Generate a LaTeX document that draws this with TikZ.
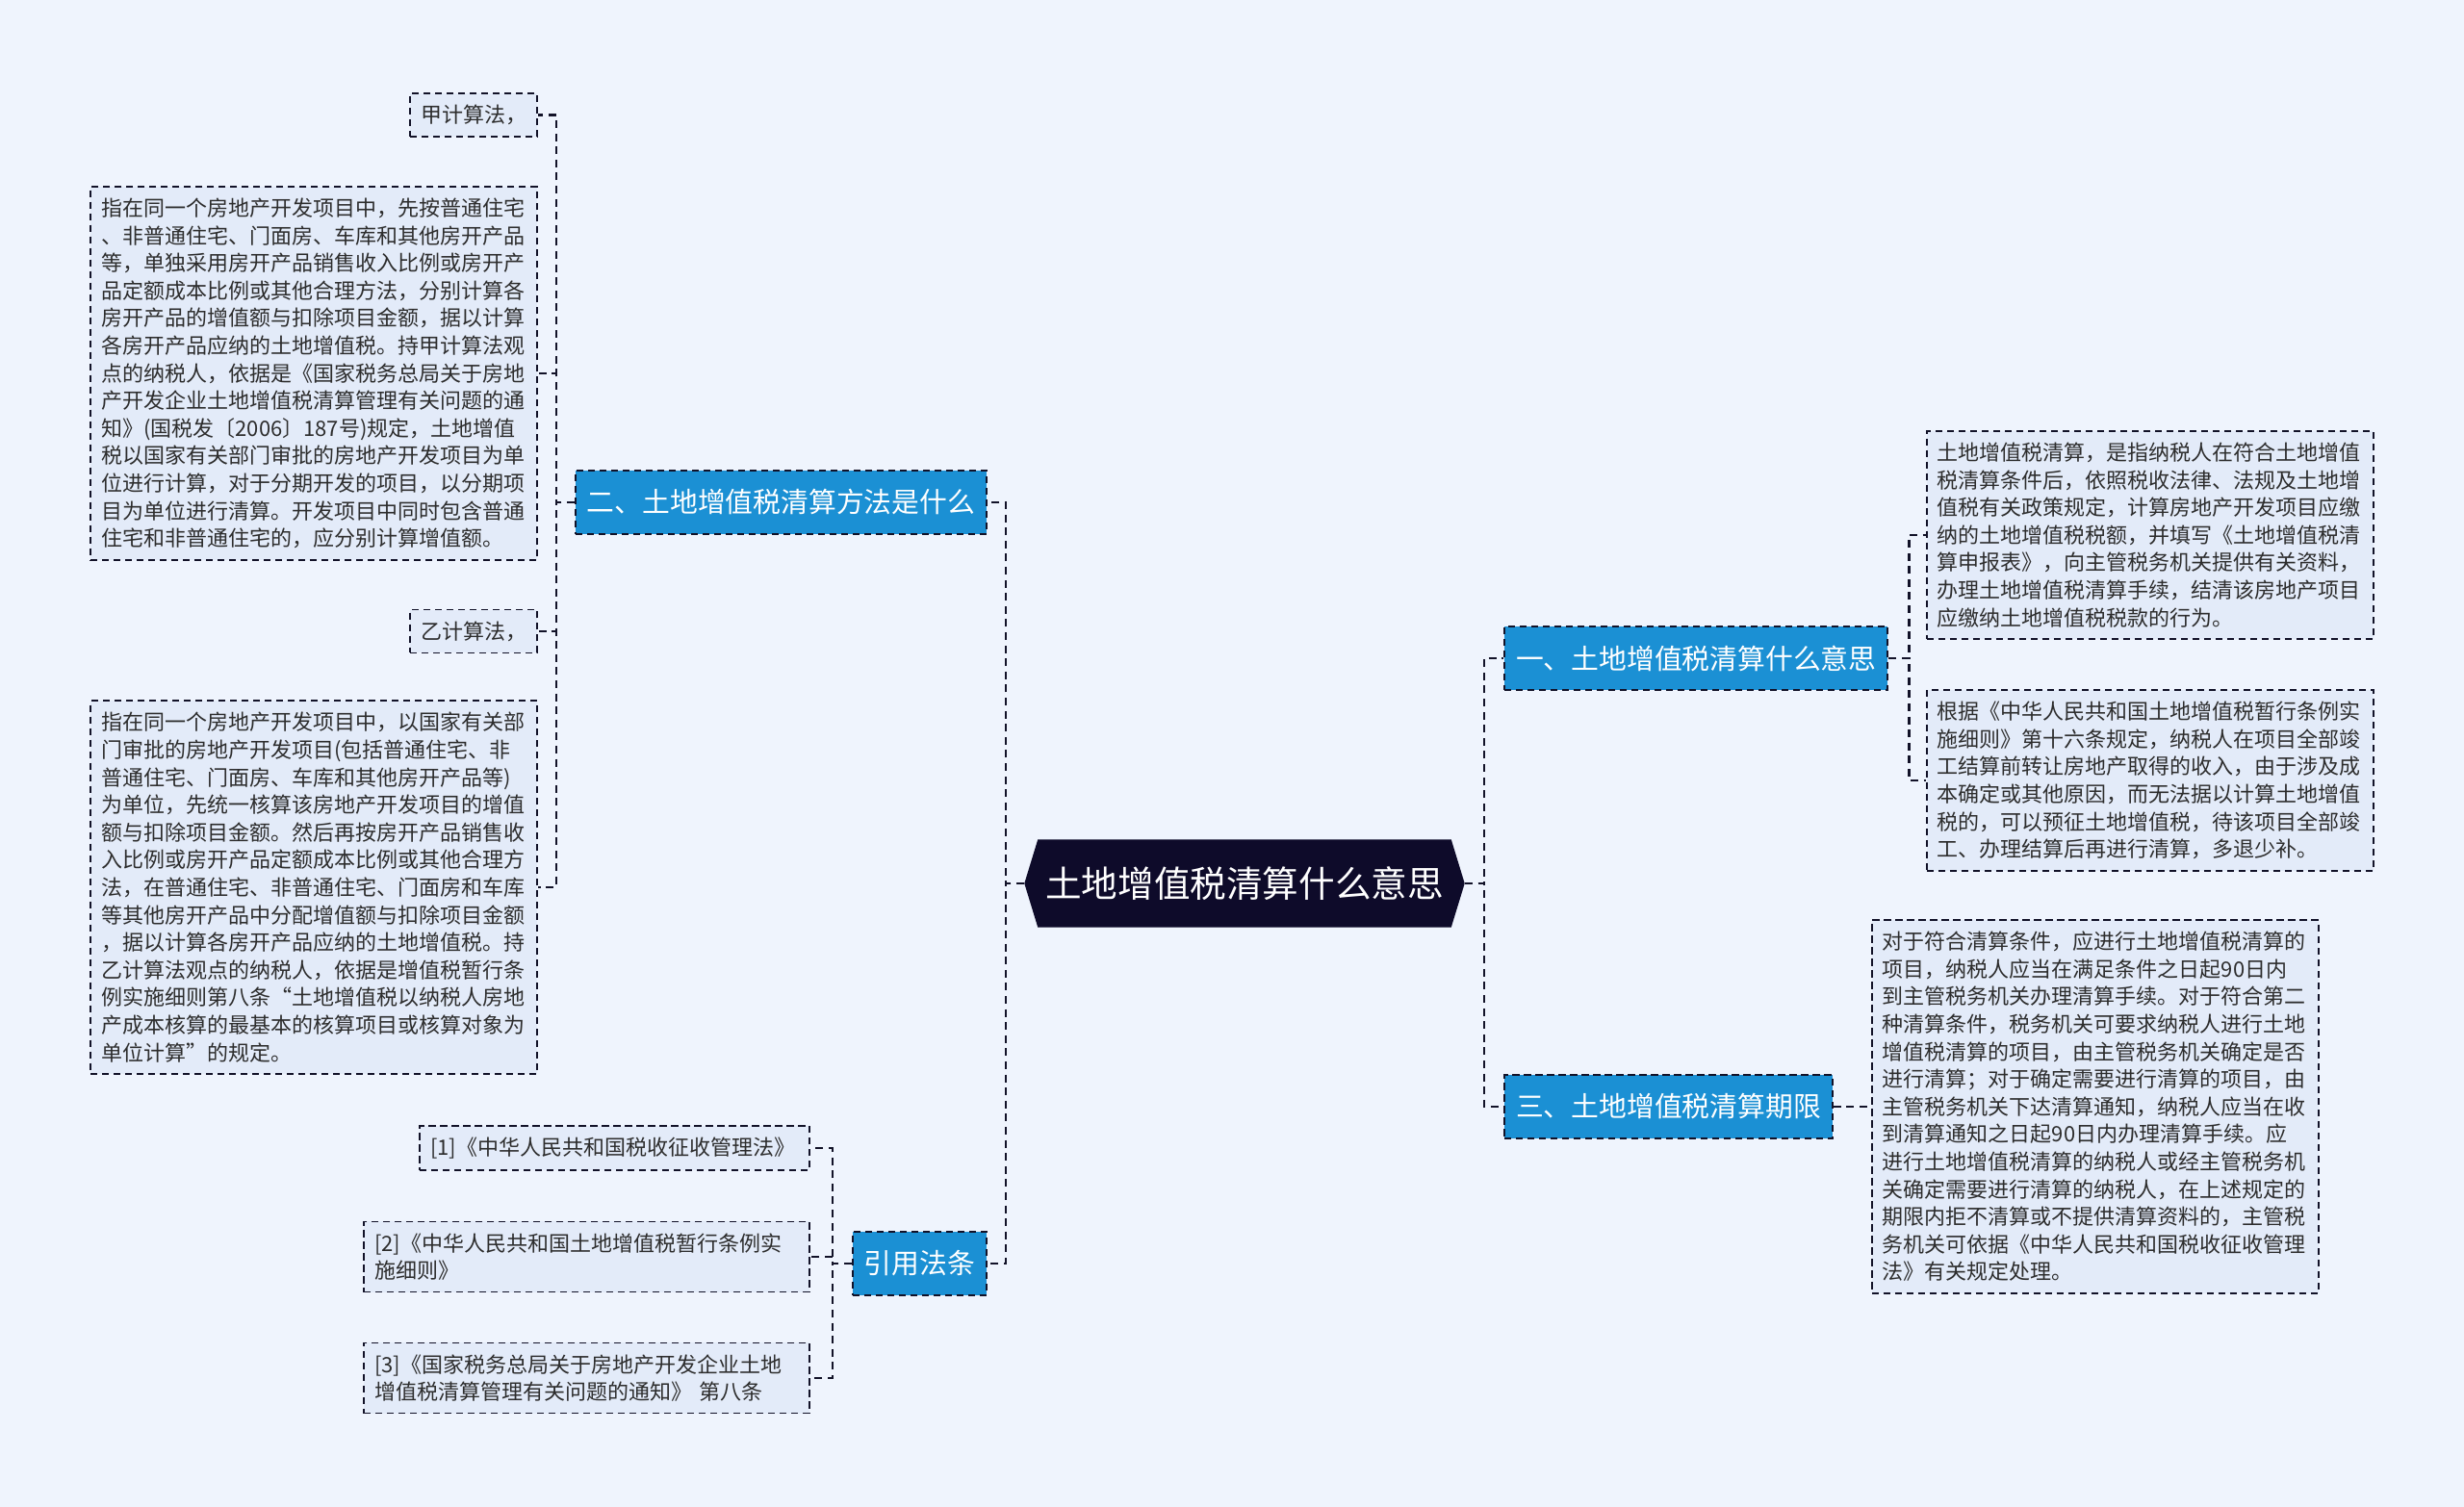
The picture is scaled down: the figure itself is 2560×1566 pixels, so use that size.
\documentclass[tikz,border=0pt]{standalone}
\usepackage{fontspec}
\setmainfont{Noto Sans CJK SC}
\usetikzlibrary{shapes.symbols}
\definecolor{tdbg}{RGB}{239,244,253}
\definecolor{tdleaf}{RGB}{227,235,249}
\definecolor{tdblue}{RGB}{27,144,212}
\definecolor{tdroot}{RGB}{14,11,42}
\definecolor{tdline}{RGB}{18,18,40}
\definecolor{tdtext}{RGB}{45,45,45}
\tikzset{
  link/.style={tdline,line width=1.1pt,dash pattern=on 4pt off 2.8pt},
  rootnode/.style={shape=signal,signal to=east and west,signal pointer angle=146,
    fill=tdroot,text=white,font=\fontsize{18.8}{22}\selectfont,
    minimum height=45.5pt,inner xsep=4pt,inner ysep=0pt},
  topic/.style={fill=tdblue,draw=tdline,line width=1pt,dash pattern=on 3.6pt off 2.4pt,
    text=white,font=\fontsize{14.4}{17}\selectfont,minimum height=33pt,inner xsep=6pt,inner ysep=0pt},
  leaf/.style={fill=tdleaf,draw=tdline,line width=0.8pt,dash pattern=on 3.6pt off 2.4pt,
    text=tdtext,font=\fontsize{11}{14.3}\selectfont,align=left,inner xsep=5.5pt,inner ysep=6pt}
}
\begin{document}
\begin{tikzpicture}[x=0.5pt,y=-0.5pt]
\fill[tdbg] (0,0) rectangle (2560,1566);
\useasboundingbox (0,0) rectangle (2560,1566);

\node[rootnode] (root) at (1293,918) {土地增值税清算什么意思};

\node[topic,anchor=west] (t1) at (1562,684) {一、土地增值税清算什么意思};
\node[topic,anchor=west] (t3) at (1562,1150) {三、土地增值税清算期限};
\node[topic,anchor=east] (t2) at (1026,522) {二、土地增值税清算方法是什么};
\node[topic,anchor=east] (t4) at (1026,1313) {引用法条};

% method leaves
\node[leaf,anchor=east] (l1) at (559,119.5) {甲计算法，};
\node[leaf,anchor=east,text width=221pt] (l2) at (559,388) {指在同一个房地产开发项目中，先按普通住宅\\
、非普通住宅、门面房、车库和其他房开产品\\
等，单独采用房开产品销售收入比例或房开产\\
品定额成本比例或其他合理方法，分别计算各\\
房开产品的增值额与扣除项目金额，据以计算\\
各房开产品应纳的土地增值税。持甲计算法观\\
点的纳税人，依据是《国家税务总局关于房地\\
产开发企业土地增值税清算管理有关问题的通\\
知》(国税发〔2006〕187号)规定，土地增值\\
税以国家有关部门审批的房地产开发项目为单\\
位进行计算，对于分期开发的项目，以分期项\\
目为单位进行清算。开发项目中同时包含普通\\
住宅和非普通住宅的，应分别计算增值额。};
\node[leaf,anchor=east] (l3) at (559,656) {乙计算法，};
\node[leaf,anchor=east,text width=221pt] (l4) at (559,922) {指在同一个房地产开发项目中，以国家有关部\\
门审批的房地产开发项目(包括普通住宅、非\\
普通住宅、门面房、车库和其他房开产品等)\\
为单位，先统一核算该房地产开发项目的增值\\
额与扣除项目金额。然后再按房开产品销售收\\
入比例或房开产品定额成本比例或其他合理方\\
法，在普通住宅、非普通住宅、门面房和车库\\
等其他房开产品中分配增值额与扣除项目金额\\
，据以计算各房开产品应纳的土地增值税。持\\
乙计算法观点的纳税人，依据是增值税暂行条\\
例实施细则第八条“土地增值税以纳税人房地\\
产成本核算的最基本的核算项目或核算对象为\\
单位计算”的规定。};

% cited laws
\node[leaf,anchor=east,text width=191.5pt] (c1) at (842,1193) {[1]《中华人民共和国税收征收管理法》};
\node[leaf,anchor=east,text width=220.5pt] (c2) at (842,1306) {[2]《中华人民共和国土地增值税暂行条例实\\
施细则》};
\node[leaf,anchor=east,text width=220.5pt] (c3) at (842,1432) {[3]《国家税务总局关于房地产开发企业土地\\
增值税清算管理有关问题的通知》 第八条};

% meaning leaves
\node[leaf,anchor=west,text width=221pt] (r1) at (2001,556) {土地增值税清算，是指纳税人在符合土地增值\\
税清算条件后，依照税收法律、法规及土地增\\
值税有关政策规定，计算房地产开发项目应缴\\
纳的土地增值税税额，并填写《土地增值税清\\
算申报表》，向主管税务机关提供有关资料，\\
办理土地增值税清算手续，结清该房地产项目\\
应缴纳土地增值税税款的行为。};
\node[leaf,anchor=west,text width=221pt] (r2) at (2001,811) {根据《中华人民共和国土地增值税暂行条例实\\
施细则》第十六条规定，纳税人在项目全部竣\\
工结算前转让房地产取得的收入，由于涉及成\\
本确定或其他原因，而无法据以计算土地增值\\
税的，可以预征土地增值税，待该项目全部竣\\
工、办理结算后再进行清算，多退少补。};

% time limit leaf
\node[leaf,anchor=west,text width=221pt] (r3) at (1944,1150) {对于符合清算条件，应进行土地增值税清算的\\
项目，纳税人应当在满足条件之日起90日内\\
到主管税务机关办理清算手续。对于符合第二\\
种清算条件，税务机关可要求纳税人进行土地\\
增值税清算的项目，由主管税务机关确定是否\\
进行清算；对于确定需要进行清算的项目，由\\
主管税务机关下达清算通知，纳税人应当在收\\
到清算通知之日起90日内办理清算手续。应\\
进行土地增值税清算的纳税人或经主管税务机\\
关确定需要进行清算的纳税人，在上述规定的\\
期限内拒不清算或不提供清算资料的，主管税\\
务机关可依据《中华人民共和国税收征收管理\\
法》有关规定处理。};

% connectors
\draw[link] (root.west) -- ++(-19,0) |- (t2.east);
\draw[link] (root.west) -- ++(-19,0) |- (t4.east);
\draw[link] (root.east) -- ++(20,0) |- (t1.west);
\draw[link] (root.east) -- ++(20,0) |- (t3.west);
\draw[link] (t2.west) -- ++(-19,0) |- (l1.east);
\draw[link] (t2.west) -- ++(-19,0) |- (l2.east);
\draw[link] (t2.west) -- ++(-19,0) |- (l3.east);
\draw[link] (t2.west) -- ++(-19,0) |- (l4.east);
\draw[link] (t4.west) -- ++(-20,0) |- (c1.east);
\draw[link] (t4.west) -- ++(-20,0) |- (c2.east);
\draw[link] (t4.west) -- ++(-20,0) |- (c3.east);
\draw[link] (t1.east) -- ++(21,0) |- (r1.west);
\draw[link] (t1.east) -- ++(21,0) |- (r2.west);
\draw[link] (t3.east) -- (r3.west);
\end{tikzpicture}
\end{document}
